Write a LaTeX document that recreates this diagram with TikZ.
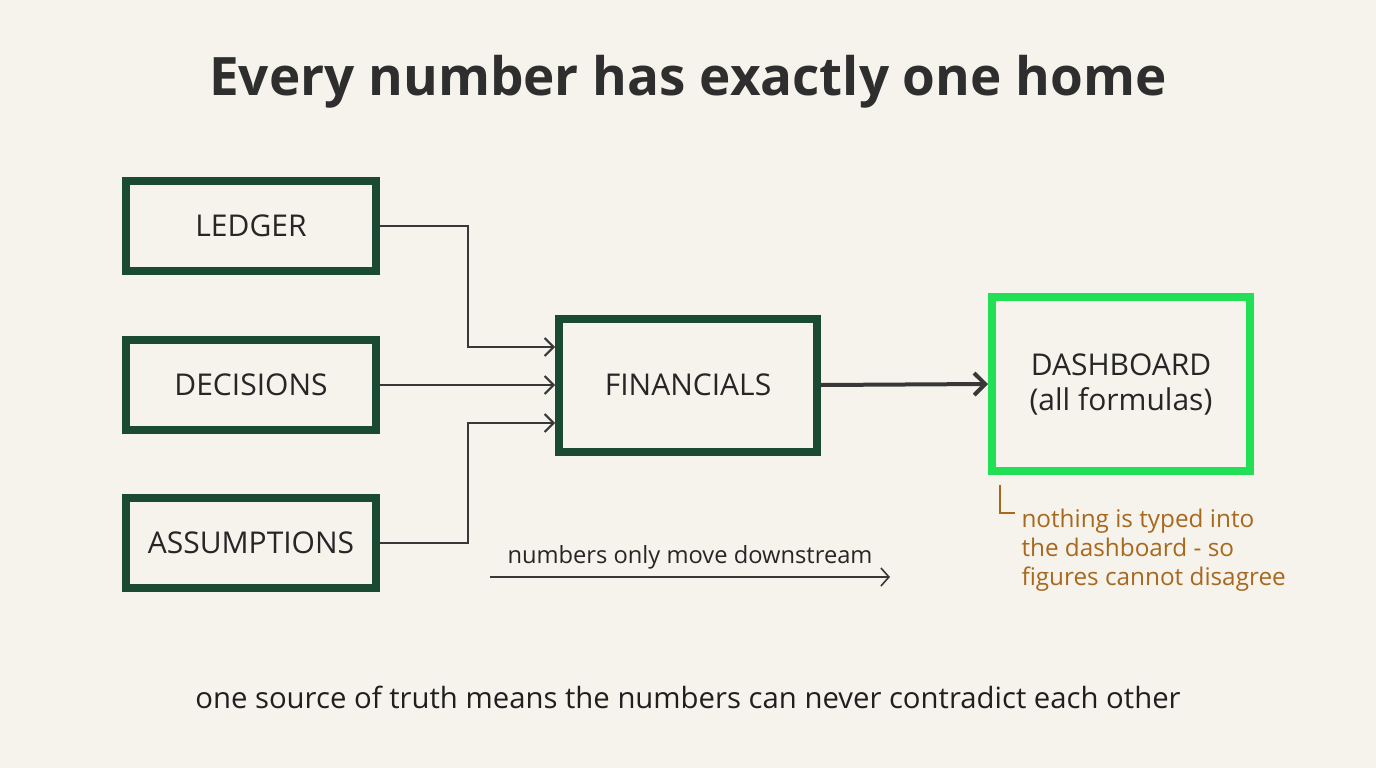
\documentclass[tikz,border=0pt]{standalone}
\usepackage{fontspec}
\setmainfont{Open Sans}
\usetikzlibrary{arrows.meta}

\definecolor{paper}{HTML}{F6F3EC}
\definecolor{darkgreen}{HTML}{1B4A32}
\definecolor{brightgreen}{HTML}{22E055}
\definecolor{ink}{HTML}{383838}
\definecolor{note}{HTML}{A8681E}

\newcommand{\bigtext}{\fontsize{30}{35}\selectfont}
\tikzset{
  source/.style={draw=darkgreen, line width=8pt, minimum width=250pt, minimum height=90pt, font=\bigtext, text=black!85},
  flow/.style={draw=ink, line width=2pt, -{Straight Barb[length=9pt,width=18pt,line width=2pt]}},
}

\begin{document}
\begin{tikzpicture}[x=1pt, y=-1pt]
            \fill[paper] (0,0) rectangle (1376,768);
            \useasboundingbox (0,0) rectangle (1376,768);

            \node[font=\fontsize{53}{60}\selectfont\bfseries, text=black!82] (title) at (688,82) {Every number has exactly one home};

            \node[source] (ledger) at (251,226) {LEDGER};
            \node[source] (decisions) at (251,385) {DECISIONS};
            \node[source] (assumptions) at (251,543) {ASSUMPTIONS};

            \node[source, minimum width=258pt, minimum height=133pt] (financials) at (688,385) {FINANCIALS};
            \node[source, draw=brightgreen, minimum width=258pt, minimum height=174pt, align=center] (dashboard) at (1121,384) {DASHBOARD\\(all formulas)};

            \draw[flow] (ledger.east) -- ++(88,0) |- ([yshift=38pt]financials.west);
            \draw[flow] (decisions.east) -- (financials.west);
            \draw[flow] (assumptions.east) -- ++(88,0) |- ([yshift=-38pt]financials.west);
            \draw[flow, line width=4pt, -{Straight Barb[length=11pt,width=22pt,line width=4pt]}] (financials.east) -- (dashboard.west);

            % downstream hint
            \coordinate (d1) at (490,577);
            \coordinate (d2) at (890,577);
            \draw[flow, line width=1.6pt, -{Straight Barb[length=8pt,width=18pt,line width=1.6pt]}] (d1) -- (d2) node[midway, above=4pt, font=\fontsize{23.7}{28}\selectfont, text=black!85] (downstream) {numbers only move downstream};

            % note under the dashboard
            \node[anchor=north west, align=left, text=note, font=\fontsize{24.3}{29}\selectfont] (why) at (1018,505) {nothing is typed into\\the dashboard - so\\figures cannot disagree};
            \draw[note, line width=1.6pt] ([xshift=-18pt,yshift=20pt]why.north west) |- ([xshift=-3pt,yshift=-8pt]why.north west);

            \node[font=\fontsize{29.3}{34}\selectfont, text=black!88] (truth) at (688,697) {one source of truth means the numbers can never contradict each other};
        \end{tikzpicture}
\end{document}
